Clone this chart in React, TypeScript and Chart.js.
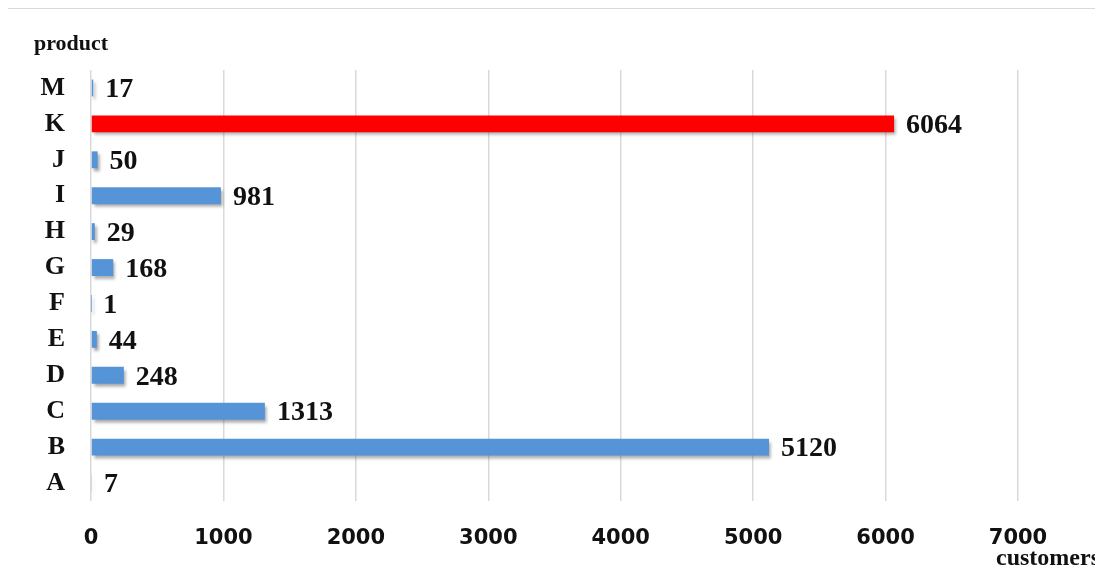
import React, { useEffect, useRef } from "react";
import { Chart, registerables } from "chart.js";

Chart.register(...registerables);

// Products, listed from the bottom of the axis to the top
const products = ["A", "B", "C", "D", "E", "F", "G", "H", "I", "J", "K", "M"];
// Number of customers per product
const customers = [7, 5120, 1313, 248, 44, 1, 168, 29, 981, 50, 6064, 17];
// The product drawn in the accent colour
const highlighted = "K";
const xTicks = [0, 1000, 2000, 3000, 4000, 5000, 6000, 7000];

const BLUE = "#5694D8";
const RED = "#FF0000";
const SERIF = "'Liberation Serif', 'Times New Roman', serif";
const SANS = "'DejaVu Sans', sans-serif";

// Soft drop shadow under the bars
const barShadow = {
  id: "barShadow",
  beforeDatasetsDraw(chart: any) {
    const ctx = chart.ctx;
    ctx.save();
    ctx.shadowColor = "rgba(60,60,60,0.45)";
    ctx.shadowBlur = 3;
    ctx.shadowOffsetX = 2;
    ctx.shadowOffsetY = 3;
  },
  afterDatasetsDraw(chart: any) {
    chart.ctx.restore();
  },
};

// Value labels at the end of each bar, plus the two axis captions
const annotations = {
  id: "annotations",
  afterDatasetsDraw(chart: any) {
    const ctx = chart.ctx;
    const meta = chart.getDatasetMeta(0);
    const area = chart.chartArea;
    ctx.save();
    ctx.fillStyle = "#111";
    ctx.font = `bold 28px ${SERIF}`;
    ctx.textAlign = "left";
    ctx.textBaseline = "middle";
    meta.data.forEach((bar: any, i: number) => {
      ctx.fillText(String(customers[i]), bar.x + 12, bar.y + 2);
    });
    ctx.textBaseline = "alphabetic";
    ctx.font = `bold 22px ${SERIF}`;
    ctx.fillText("product", 26, area.top - 20);
    ctx.font = `bold 24px ${SERIF}`;
    ctx.fillText("customers", 988, chart.height - 6);
    ctx.restore();
  },
};

export default function App() {
  const canvasRef = useRef<HTMLCanvasElement | null>(null);

  useEffect(() => {
    if (!canvasRef.current) return;
    const colors = products.map((p) => (p === highlighted ? RED : BLUE));
    const chart = new Chart(canvasRef.current, {
      type: "bar",
      data: {
        labels: products,
        datasets: [
          {
            data: customers,
            backgroundColor: colors,
            borderWidth: 0,
            categoryPercentage: 1,
            barPercentage: 0.47,
          },
        ],
      },
      options: {
        indexAxis: "y",
        animation: false,
        responsive: false,
        maintainAspectRatio: false,
        layout: { padding: { top: 61, right: 84, left: 0, bottom: 0 } },
        plugins: {
          legend: { display: false },
          tooltip: { enabled: false },
        },
        scales: {
          x: {
            min: 0,
            max: 7000,
            afterBuildTicks: (scale: any) => {
              scale.ticks = xTicks.map((v) => ({ value: v }));
            },
            afterFit: (scale: any) => {
              scale.height = 70;
            },
            grid: {
              color: "#d9d9d9",
              lineWidth: 1.5,
              drawTicks: false,
            },
            border: { display: false },
            ticks: {
              padding: 25,
              color: "#111",
              font: { family: SANS, size: 21, weight: "bold" },
              callback: (value: any) => String(value),
            },
          },
          y: {
            reverse: true,
            afterFit: (scale: any) => {
              scale.width = 83;
            },
            grid: { display: false, drawTicks: false },
            border: { display: false },
            ticks: {
              padding: 26,
              color: "#111",
              font: { family: SERIF, size: 26, weight: "bold" },
            },
          },
        },
      },
      plugins: [barShadow, annotations],
    });
    return () => chart.destroy();
  }, []);

  return (
    <div
      style={{
        position: "relative",
        width: 1096,
        height: 562,
        borderTop: "1px solid #d9d9d9",
        borderLeft: "1px solid #d9d9d9",
        marginLeft: -1,
        background: "#fff",
      }}
    >
      <canvas ref={canvasRef} width={1094} height={562} style={{ display: "block" }} />
    </div>
  );
}
